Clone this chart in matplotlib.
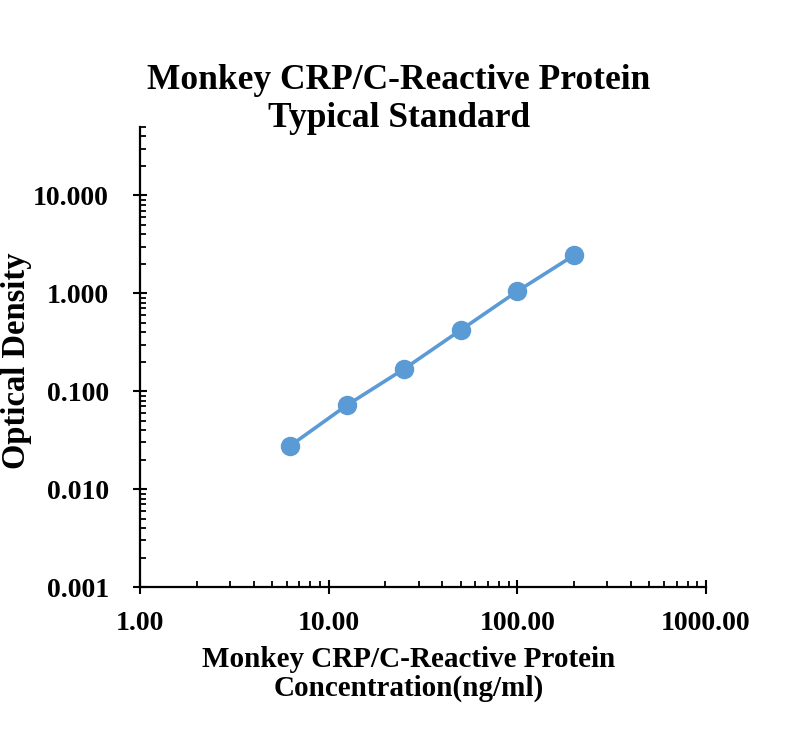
import matplotlib
matplotlib.use("Agg")
import matplotlib.pyplot as plt
from matplotlib.ticker import LogLocator, FixedLocator, FuncFormatter, NullFormatter

plt.rcParams['font.family'] = ['Liberation Serif', 'DejaVu Serif']
plt.rcParams['font.weight'] = 'bold'

concentration = [6.25, 12.5, 25, 50, 100, 200]
optical_density = [0.0277, 0.072, 0.168, 0.42, 1.05, 2.45]

title = "Monkey CRP/C-Reactive Protein\nTypical Standard"
xlabel = "Monkey CRP/C-Reactive Protein\nConcentration(ng/ml)"
ylabel = "Optical Density"

W, H = 800, 738
fig = plt.figure(figsize=(W / 100, H / 100), dpi=100)
ax = fig.add_axes([140 / W, 1 - 587 / H, 566 / W, 460 / H])

ax.plot(concentration, optical_density, color='#5B9BD5', linewidth=2.6,
        marker='o', markersize=13, markerfacecolor='#5B9BD5', markeredgecolor='#5B9BD5')

ax.set_xscale('log')
ax.set_yscale('log')
ax.set_xlim(1, 1000)
ax.set_ylim(0.001, 50)

ax.xaxis.set_major_locator(FixedLocator([1, 10, 100, 1000]))
ax.xaxis.set_major_formatter(FuncFormatter(lambda v, p: f"{v:.2f}"))
ax.xaxis.set_minor_locator(LogLocator(base=10, subs=range(2, 10), numticks=20))
ax.xaxis.set_minor_formatter(NullFormatter())

ax.yaxis.set_major_locator(FixedLocator([0.001, 0.01, 0.1, 1, 10]))
ax.yaxis.set_major_formatter(FuncFormatter(lambda v, p: f"{v:.3f}"))
ax.yaxis.set_minor_locator(LogLocator(base=10, subs=range(2, 10), numticks=20))
ax.yaxis.set_minor_formatter(NullFormatter())

for s in ['top', 'right']:
    ax.spines[s].set_visible(False)
for s in ['left', 'bottom']:
    ax.spines[s].set_linewidth(1.6)

ax.tick_params(axis='both', which='major', direction='inout', length=10.5, width=1.5,
               labelsize=20)
ax.tick_params(axis='x', which='major', pad=12)
ax.tick_params(axis='y', which='major', pad=17)
ax.tick_params(axis='both', which='minor', direction='in', length=4.5, width=1.3)
for lab in ax.get_xticklabels() + ax.get_yticklabels():
    lab.set_fontweight('bold')

fig.text(399 / W, 1 - 64 / H, title, fontsize=25.5, fontweight='bold',
         ha='center', va='top', linespacing=1.2)
fig.text(409 / W, 1 - 646 / H, xlabel, fontsize=21, fontweight='bold',
         ha='center', va='top', linespacing=1.1)
fig.text(1 / W, 1 - 361 / H, ylabel, fontsize=23.5, fontweight='bold',
         ha='left', va='center', rotation=90)

fig.savefig('out.png', dpi=100)
